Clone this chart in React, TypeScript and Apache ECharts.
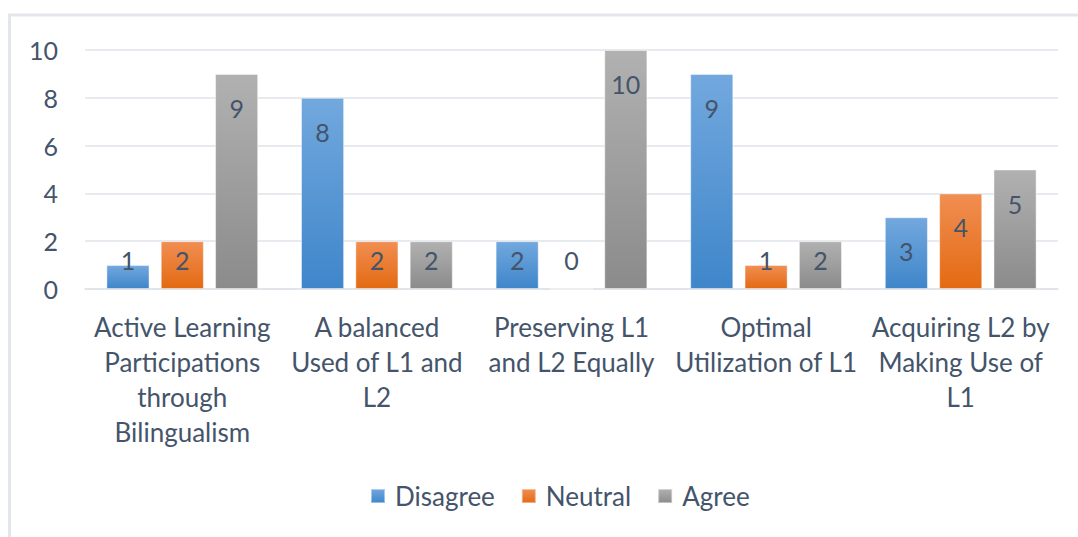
import React, { useEffect, useRef } from "react";
import * as echarts from "echarts";

const categories = [
  "Active Learning Participations through Bilingualism",
  "A balanced Used of L1 and L2",
  "Preserving L1 and L2 Equally",
  "Optimal Utilization of L1",
  "Acquiring L2 by Making Use of L1",
];
const categoryLabels = [
  "Active Learning\nParticipations\nthrough\nBilingualism",
  "A balanced\nUsed of L1 and\nL2",
  "Preserving L1\nand L2 Equally",
  "Optimal\nUtilization of L1",
  "Acquiring L2 by\nMaking Use of\nL1",
];
const disagree = [1, 8, 2, 9, 3];
const neutral = [2, 2, 0, 1, 4];
const agree = [9, 2, 10, 2, 5];
const yTicks = [0, 2, 4, 6, 8, 10];

const TEXT = "#44546a";
const FONT = "Lato";

const grad = (top: string, bottom: string) =>
  new echarts.graphic.LinearGradient(0, 0, 0, 1, [
    { offset: 0, color: top },
    { offset: 1, color: bottom },
  ]);

export default function App() {
  const ref = useRef<HTMLDivElement>(null);
  useEffect(() => {
    if (!ref.current) return;
    const chart = echarts.init(ref.current, undefined, { renderer: "svg" });
    const gridTop = 50;
    const gridBottom = 248;
    const plotH = 537 - gridTop - gridBottom;
    const pxPerUnit = plotH / 10;
    const labelY = (v: number) => Math.min(34, pxPerUnit * v - 29);
    const mk = (name: string, vals: number[], top: string, bottom: string) => ({
      name,
      type: "bar",
      barGap: "26%",
      barCategoryGap: "22%",
      itemStyle: {
        color: grad(top, bottom),
        borderColor: "rgba(255,255,255,0.45)",
        borderWidth: 1,
      },
      data: vals.map((v) => ({
        value: v,
        label: {
          show: true,
          position: ["50%", labelY(v)],
          align: "center",
          verticalAlign: "middle",
          color: TEXT,
          fontFamily: FONT,
          fontSize: 25,
        },
      })),
    });
    chart.setOption({
      animation: false,
      backgroundColor: "#ffffff",
      graphic: [
        {
          type: "rect",
          shape: { x: 9.5, y: 15, width: 1100, height: 600 },
          style: { fill: "none", stroke: "#e3e6ec", lineWidth: 3 },
          silent: true,
        },
      ],
      grid: { left: 85, right: 20, top: gridTop, bottom: gridBottom },
      legend: {
        bottom: 23,
        left: 365,
        itemWidth: 14,
        itemHeight: 14,
        itemGap: 26,
        icon: "rect",
        textStyle: { color: TEXT, fontFamily: FONT, fontSize: 26, padding: [0, 0, 0, 5] },
        data: ["Disagree", "Neutral", "Agree"],
      },
      xAxis: {
        type: "category",
        data: categories,
        axisLine: { show: true, lineStyle: { color: "#dfe3e8", width: 1.5 } },
        axisTick: { show: false },
        axisLabel: {
          color: TEXT,
          fontFamily: FONT,
          fontSize: 26,
          lineHeight: 35,
          margin: 20,
          interval: 0,
          formatter: (_v: string, i: number) => categoryLabels[i],
        },
      },
      yAxis: {
        type: "value",
        min: yTicks[0],
        max: yTicks[yTicks.length - 1],
        interval: 2,
        axisLine: { show: false },
        axisTick: { show: false },
        splitLine: { lineStyle: { color: "#dfe3e8", width: 1.5 } },
        axisLabel: { color: TEXT, fontFamily: FONT, fontSize: 25, margin: 27 },
      },
      series: [
        mk("Disagree", disagree, "#72a8de", "#3f86ca"),
        mk("Neutral", neutral, "#f18e52", "#e36a12"),
        mk("Agree", agree, "#b1b1b1", "#8b8b8b"),
      ],
    });
    return () => chart.dispose();
  }, []);
  return (
    <div
      ref={ref}
      style={{ position: "fixed", left: 0, top: 0, width: 1078, height: 537 }}
    />
  );
}
